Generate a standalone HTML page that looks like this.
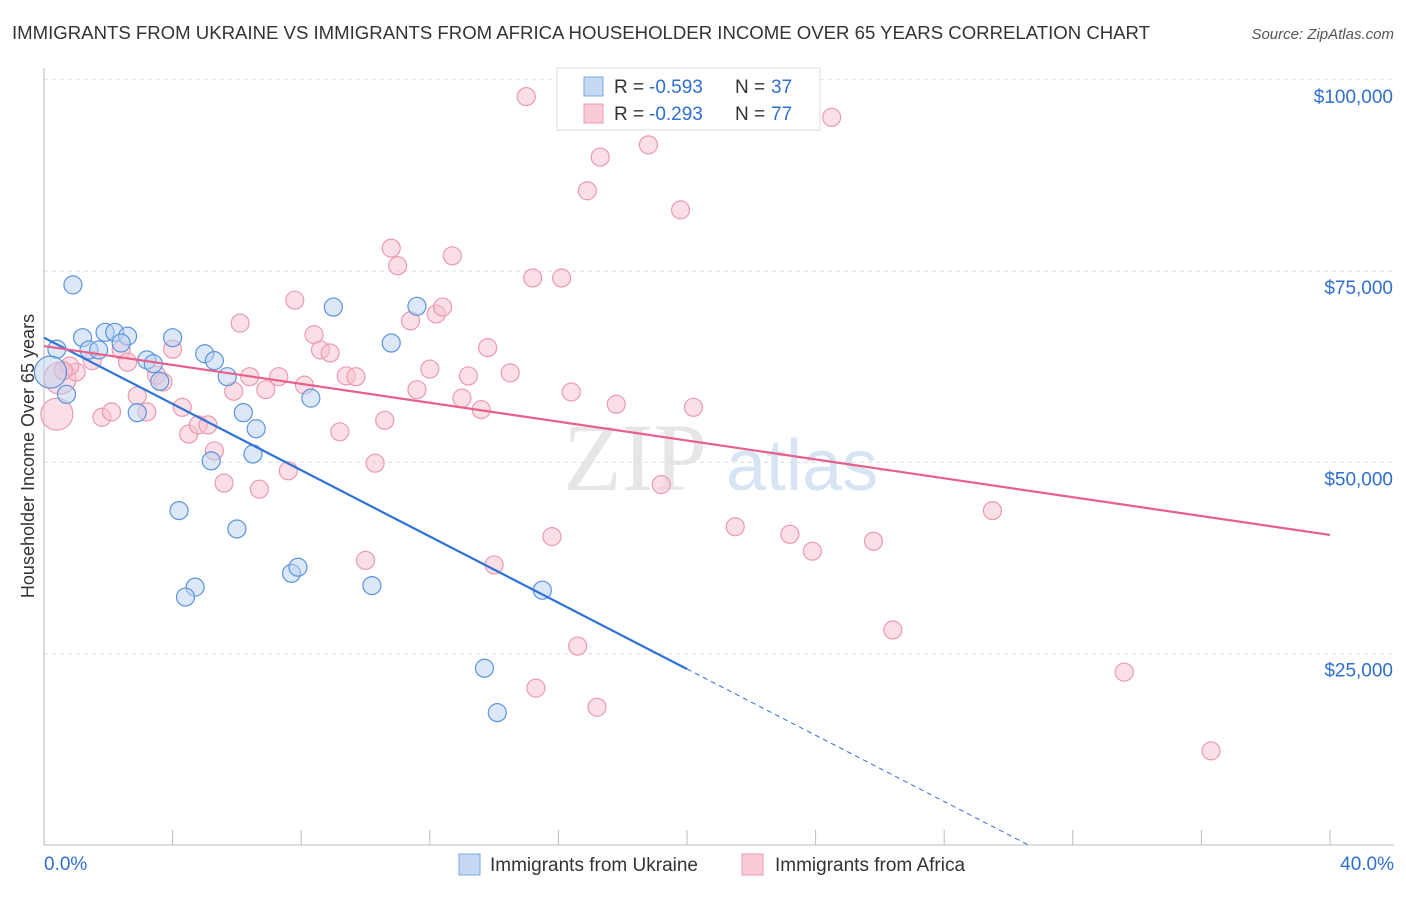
<!DOCTYPE html>
<html><head><meta charset="utf-8"><style>
body{margin:0;background:#fff;font-family:"Liberation Sans",sans-serif}
</style></head><body>
<svg width="1406" height="892" xmlns="http://www.w3.org/2000/svg">
<text x="12" y="39" font-size="18" fill="#333" textLength="1138" lengthAdjust="spacingAndGlyphs">IMMIGRANTS FROM UKRAINE VS IMMIGRANTS FROM AFRICA HOUSEHOLDER INCOME OVER 65 YEARS CORRELATION CHART</text>
<text x="1394" y="39" font-size="15" fill="#555" font-style="italic" text-anchor="end">Source: ZipAtlas.com</text>
<g><text x="635" y="490" font-size="96" font-family="Liberation Serif" fill="#e6e6e6" text-anchor="middle">ZIP</text><text x="802" y="490" font-size="72" fill="#d6e4f4" text-anchor="middle">atlas</text></g>
<g id="grid"></g><g id="axes"></g><g id="marks"></g>
<text transform="translate(34,456) rotate(-90)" font-size="18" fill="#333" text-anchor="middle">Householder Income Over 65 years</text>
<g>
<rect x="557" y="68" width="263" height="62" fill="#fff" stroke="#ddd"/>
<rect x="584" y="77" width="19" height="19" fill="#c5d9f3" stroke="#7aa6e0"/>
<rect x="584" y="104" width="19" height="19" fill="#f9cbd7" stroke="#eb9ab0"/>
<text x="614" y="93" font-size="19" fill="#333">R =</text><text x="649" y="93" font-size="19" fill="#2f6fd0">-0.593</text>
<text x="735" y="93" font-size="19" fill="#333">N =</text><text x="771" y="93" font-size="19" fill="#2f6fd0">37</text>
<text x="614" y="120" font-size="19" fill="#333">R =</text><text x="649" y="120" font-size="19" fill="#2f6fd0">-0.293</text>
<text x="735" y="120" font-size="19" fill="#333">N =</text><text x="771" y="120" font-size="19" fill="#2f6fd0">77</text>
</g>
<g>
<rect x="459" y="854" width="21" height="21" fill="#c5d9f3" stroke="#7aa6e0"/>
<text x="490" y="871" font-size="19" fill="#333">Immigrants from Ukraine</text>
<rect x="742" y="854" width="21" height="21" fill="#f9cbd7" stroke="#eb9ab0"/>
<text x="775" y="871" font-size="19" fill="#333">Immigrants from Africa</text>
</g>
</svg>
<script>
const yTicks=[25000,50000,75000,100000];
const yTickLabels=["$25,000","$50,000","$75,000","$100,000"];
const xEnds=["0.0%","40.0%"];
const ukrX=[0.9,0.4,1.2,1.4,1.9,2.2,2.6,2.4,1.7,0.7,0.2,3.2,3.4,3.6,2.9,4.0,5.0,5.3,5.7,6.2,6.6,6.5,5.2,4.2,6.0,4.7,4.4,7.7,7.9,9.0,8.3,10.2,11.6,10.8,13.7,14.1,15.5];
const ukrY=[73200,64800,66300,64700,67000,67000,66500,65600,64700,58900,61800,63400,62900,60600,56500,66300,64200,63300,61200,56500,54400,51100,50200,43700,41300,33700,32400,35500,36300,70300,58400,33900,70400,65600,23100,17300,33300];
const afrX=[0.4,0.5,1.0,1.5,0.8,1.8,2.1,2.4,2.6,2.9,3.2,3.5,3.7,4.0,4.3,4.5,4.8,5.1,5.3,5.6,5.9,6.1,6.4,6.7,6.9,7.3,7.6,7.8,8.1,8.4,8.6,8.9,9.2,9.4,9.7,10.0,10.3,10.6,10.8,11.0,11.4,11.6,12.0,12.2,12.4,12.7,13.0,13.2,13.6,13.8,14.0,14.5,15.0,15.2,15.3,15.8,16.1,16.4,16.6,16.9,17.2,17.3,17.8,18.8,19.2,19.8,20.2,21.5,23.2,23.9,24.5,25.8,26.4,29.5,33.6,36.3,0.6];
const afrY=[56300,61000,61800,63300,62600,55900,56600,64700,63100,58700,56600,61400,60500,64800,57200,53700,54900,54900,51500,47300,59300,68200,61200,46500,59500,61200,48900,71200,60100,66700,64700,64300,54000,61300,61200,37200,49900,55500,78000,75700,68500,59500,62200,69400,70300,77000,58400,61300,56900,65000,36600,61700,97800,74100,20500,40300,74100,59200,26000,85500,18000,89900,57600,91500,47100,83000,57200,41600,40600,38400,95100,39700,28100,43700,22600,12300,62000];
const afrBig=[0,1];
const ukrBig=[10];
const ukrTrend=[66300,-2165];
const afrTrend=[65200,-617];
const X=v=>44+v/40*1286, Y=v=>845-v/25000*191.3;
const NS="http://www.w3.org/2000/svg";
function mk(p,t,a){const e=document.createElementNS(NS,t);for(const k in a)e.setAttribute(k,a[k]);document.getElementById(p).appendChild(e);return e;}
yTicks.forEach((v,i)=>{
 const l=mk('grid','line',{x1:44,x2:1394,y1:Y(v),y2:Y(v),stroke:'#ddd','stroke-dasharray':'4,4'});
 
 
 const t=mk('grid','text',{x:1393,y:Y(v)+23,'font-size':19,fill:'#2f6fd0','text-anchor':'end'});t.textContent=yTickLabels[i];
 
 
});
const ax=mk('axes','line',{x1:44,x2:44,y1:68,y2:845,stroke:'#bbb'});


const bx=mk('axes','line',{x1:44,x2:1394,y1:845,y2:845,stroke:'#bbb'});


for(let v=4;v<=40;v+=4){const tk=mk('axes','line',{x1:X(v),x2:X(v),y1:830,y2:845,stroke:'#bbb'});
 
 }
[[0,'start',44],[40,'end',1394]].forEach((d,i)=>{const t=mk('axes','text',{x:d[2],y:870,'font-size':19,fill:'#2f6fd0','text-anchor':d[1]});t.textContent=xEnds[i];
 
 });
function pts(xs,ys,big,fill,stroke,name){xs.forEach((x,i)=>{const c=mk('marks','circle',{cx:X(x),cy:Y(ys[i]),r:big.includes(i)?16:9,fill:fill,'fill-opacity':0.5,stroke:stroke,'stroke-width':1.2});
 
 });}
pts(afrX,afrY,afrBig,'#f7bfcf','#eb9ab0','africa-point');
pts(ukrX,ukrY,ukrBig,'#b9d2f2','#5a94dc','ukraine-point');
const l1=mk('marks','line',{x1:X(0),y1:Y(ukrTrend[0]),x2:X(20),y2:Y(ukrTrend[0]+ukrTrend[1]*20),stroke:'#2f72d6','stroke-width':2.2});


const xz=-ukrTrend[0]/ukrTrend[1];
const l2=mk('marks','line',{x1:X(20),y1:Y(ukrTrend[0]+ukrTrend[1]*20),x2:X(xz),y2:Y(0),stroke:'#2f72d6','stroke-width':1,'stroke-dasharray':'5,4'});


const l3=mk('marks','line',{x1:X(0),y1:Y(afrTrend[0]),x2:X(40),y2:Y(afrTrend[0]+afrTrend[1]*40),stroke:'#e8608a','stroke-width':2.2});


</script>
</body></html>
